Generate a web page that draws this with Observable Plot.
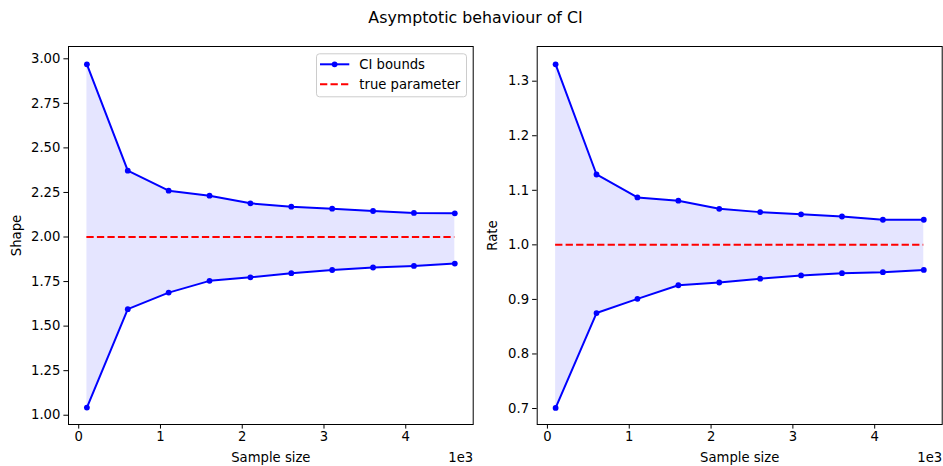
<!DOCTYPE html>
<html>
<head>
<meta charset="utf-8">
<script src="https://cdn.jsdelivr.net/npm/d3@7"></script>
<script src="https://cdn.jsdelivr.net/npm/@observablehq/plot@0.6"></script>
<style>
  body { margin: 0; background: #fff; }
  #fig { position: relative; width: 943px; height: 466px; overflow: hidden; background: #fff; }
  #fig > svg, #fig > .panel { position: absolute; top: 0; }
  #overlay { left: 0; pointer-events: none; }
</style>
</head>
<body>
<div id="fig"></div>
<script>
// Sample sizes used for each CI estimate
const sampleSizes = [100, 600, 1100, 1600, 2100, 2600, 3100, 3600, 4100, 4600];

// Confidence interval bounds for the shape parameter
const shapeLower = [1.043, 1.595, 1.688, 1.754, 1.774, 1.797, 1.815, 1.829, 1.838, 1.851];
const shapeUpper = [2.969, 2.372, 2.260, 2.232, 2.189, 2.170, 2.159, 2.146, 2.135, 2.133];

// Confidence interval bounds for the rate parameter
const rateLower = [0.701, 0.875, 0.901, 0.926, 0.931, 0.938, 0.944, 0.948, 0.950, 0.954];
const rateUpper = [1.331, 1.129, 1.087, 1.081, 1.066, 1.060, 1.056, 1.052, 1.046, 1.046];

// True parameter values
const trueShape = 2.0;
const trueRate = 1.0;

// Tick labels
const xTicks = [0, 1000, 2000, 3000, 4000];
const shapeTicks = [1.00, 1.25, 1.50, 1.75, 2.00, 2.25, 2.50, 2.75, 3.00];
const rateTicks = [0.7, 0.8, 0.9, 1.0, 1.1, 1.2, 1.3];

const BLUE = "#0000ff";
const RED = "#ff0000";
const FONT = "DejaVu Sans, sans-serif";

function panel({lower, upper, truth, yLabel, yTicks, yDigits, yDomain, width, marginLeft, marginRight, yLabelOffset}) {
  const rows = sampleSizes.map((n, i) => ({n, lo: lower[i], hi: upper[i]}));
  return Plot.plot({
    width,
    height: 466,
    marginLeft,
    marginRight,
    marginTop: 46,
    marginBottom: 42,
    style: {fontFamily: FONT, fontSize: "13.2px", color: "#000", background: "transparent", overflow: "visible"},
    x: {
      domain: [-125, 4825],
      ticks: xTicks,
      tickFormat: d => String(d / 1000),
      label: "Sample size",
      labelAnchor: "center",
      labelArrow: "none",
      labelOffset: 37.5,
      tickSize: 4.6,
      tickPadding: 3
    },
    y: {
      domain: yDomain,
      ticks: yTicks,
      tickFormat: d => d.toFixed(yDigits),
      label: yLabel,
      labelAnchor: "center",
      labelArrow: "none",
      labelOffset: yLabelOffset,
      tickSize: 4.6,
      tickPadding: 3.5
    },
    marks: [
      Plot.areaY(rows, {x: "n", y1: "lo", y2: "hi", fill: BLUE, fillOpacity: 0.1}),
      Plot.lineY(rows, {x: "n", y: "hi", stroke: BLUE, strokeWidth: 2}),
      Plot.dot(rows, {x: "n", y: "hi", fill: BLUE, r: 2.9}),
      Plot.lineY(rows, {x: "n", y: "lo", stroke: BLUE, strokeWidth: 2}),
      Plot.dot(rows, {x: "n", y: "lo", fill: BLUE, r: 2.9}),
      Plot.ruleY([truth], {
        x1: d3.min(sampleSizes),
        x2: d3.max(sampleSizes),
        stroke: RED,
        strokeWidth: 2,
        strokeDasharray: "7.3,3.2"
      }),
      // axis offset text for the x scale
      Plot.text(["1e3"], {frameAnchor: "bottom-right", textAnchor: "end", lineAnchor: "bottom", dy: 37.7, fill: "#000"}),
      Plot.frame({stroke: "#000", strokeWidth: 1})
    ]
  });
}

const fig = document.getElementById("fig");

const left = panel({
  lower: shapeLower, upper: shapeUpper, truth: trueShape,
  yLabel: "Shape", yTicks: shapeTicks, yDigits: 2, yDomain: [0.948, 3.069],
  width: 480, marginLeft: 68, marginRight: 7.3, yLabelOffset: 56.5
});
left.classList.add("panel");
left.style.left = "0px";
fig.appendChild(left);

const right = panel({
  lower: rateLower, upper: rateUpper, truth: trueRate,
  yLabel: "Rate", yTicks: rateTicks, yDigits: 1, yDomain: [0.6707, 1.3636],
  width: 463, marginLeft: 56.7, marginRight: 1.3, yLabelOffset: 49.4
});
right.classList.add("panel");
right.style.left = "480px";
fig.appendChild(right);

// Figure title and legend of the left panel
const ns = "http://www.w3.org/2000/svg";
const overlay = d3.select(fig).append("svg")
  .attr("id", "overlay")
  .attr("xmlns", ns)
  .attr("width", 943)
  .attr("height", 466)
  .style("font-family", FONT);

overlay.append("text")
  .attr("x", 475.5)
  .attr("y", 23.3)
  .attr("text-anchor", "middle")
  .attr("font-size", "15.8px")
  .attr("fill", "#000")
  .text("Asymptotic behaviour of CI");

const legend = overlay.append("g").attr("transform", "translate(316,53.3)");
legend.append("rect")
  .attr("x", 0.5).attr("y", 0.5)
  .attr("width", 150).attr("height", 43)
  .attr("rx", 3)
  .attr("fill", "rgba(255,255,255,0.8)")
  .attr("stroke", "#cccccc")
  .attr("stroke-width", 1);

const entries = [
  {label: "CI bounds", color: BLUE, dash: null, marker: true},
  {label: "true parameter", color: RED, dash: "7.3,3.2", marker: false}
];
entries.forEach((e, i) => {
  const cy = 11 + i * 20;
  const g = legend.append("g");
  g.append("line")
    .attr("x1", 4).attr("x2", 33.3)
    .attr("y1", cy).attr("y2", cy)
    .attr("stroke", e.color)
    .attr("stroke-width", 2)
    .attr("stroke-dasharray", e.dash);
  if (e.marker) g.append("circle").attr("cx", 18.6).attr("cy", cy).attr("r", 2.9).attr("fill", e.color);
  g.append("text")
    .attr("x", 43.3)
    .attr("y", cy + 4.9)
    .attr("font-size", "13.2px")
    .attr("fill", "#000")
    .text(e.label);
});
</script>
</body>
</html>
